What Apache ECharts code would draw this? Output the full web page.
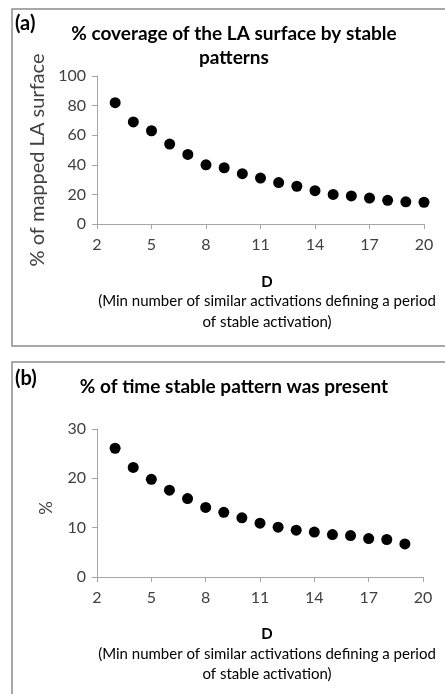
<!DOCTYPE html>
<html>
<head>
	<meta charset="utf-8">
	<title>stable patterns</title>
	<script src="https://cdn.jsdelivr.net/npm/echarts@6/dist/echarts.min.js"></script>
	<style>
		html, body { margin: 0; padding: 0; background: #fff; }
		#chart { width: 445px; height: 694px; }
	</style>
</head>
<body>
	<div id="chart"></div>
	<script>
		var dA = [3, 4, 5, 6, 7, 8, 9, 10, 11, 12, 13, 14, 15, 16, 17, 18, 19, 20];
		var coverage = [82, 69, 63, 54, 47, 40, 38, 34, 31, 28, 25.5, 22.5, 20, 19, 17.5, 16, 15, 14.7];
		var dB = [3, 4, 5, 6, 7, 8, 9, 10, 11, 12, 13, 14, 15, 16, 17, 18, 19];
		var timePresent = [26.1, 22.2, 19.8, 17.6, 15.9, 14.1, 13.1, 12.0, 10.9, 10.1, 9.5, 9.1, 8.6, 8.4, 7.8, 7.6, 6.7];

		var font = 'Lato, "Open Sans", sans-serif';
		var xNote = '(Min number of similar activations defining a period';
		var xNote2 = 'of stable activation)';

		function pairs(xs, ys) {
			var out = [];
			for (var i = 0; i < xs.length; i++) out.push([xs[i], ys[i]]);
			return out;
		}

		function xAxisFor(idx) {
			return {
				gridIndex: idx, type: 'value', min: 2, max: 20, interval: 3,
				axisLine: { lineStyle: { color: '#a6a6a6', width: 1 } },
				axisTick: { show: true, length: 5, lineStyle: { color: '#a6a6a6' } },
				axisLabel: { color: '#404040', fontSize: 16, fontFamily: font, margin: 13 },
				splitLine: { show: false }
			};
		}

		function yAxisFor(idx, max, interval) {
			return {
				gridIndex: idx, type: 'value', min: 0, max: max, interval: interval,
				axisLine: { show: true, lineStyle: { color: '#a6a6a6', width: 1 } },
				axisTick: { show: true, length: 5, lineStyle: { color: '#a6a6a6' } },
				axisLabel: { color: '#404040', fontSize: 16, fontFamily: font, margin: 11 },
				splitLine: { show: false }
			};
		}

		function txt(x, y, s, size, bold, align, color) {
			return {
				type: 'text', x: x, y: y,
				style: {
					text: s, fill: color || '#000', fontSize: size, fontFamily: font,
					fontWeight: bold ? 'bold' : 'normal',
					align: align || 'center', verticalAlign: 'middle'
				}
			};
		}

		function vtxt(x, y, s, size) {
			var t = txt(x, y, s, size, false, 'center', '#404040');
			t.rotation = Math.PI / 2;
			return t;
		}

		var chart = echarts.init(document.getElementById('chart'));
		chart.setOption({
			animation: false,
			grid: [
				{ left: 97, top: 76, width: 327, height: 148 },
				{ left: 97, top: 429, width: 326, height: 148 }
			],
			xAxis: [xAxisFor(0), xAxisFor(1)],
			yAxis: [yAxisFor(0, 100, 20), yAxisFor(1, 30, 10)],
			graphic: [
				{ type: 'rect', shape: { x: 12, y: 9, width: 450, height: 337 },
					style: { fill: 'none', stroke: '#8c8c8c', lineWidth: 1.5 } },
				{ type: 'rect', shape: { x: 12, y: 362, width: 450, height: 350 },
					style: { fill: 'none', stroke: '#8c8c8c', lineWidth: 1.5 } },
				txt(15, 24, '(a)', 20, true, 'left'),
				txt(234, 34, '% coverage of the LA surface by stable', 19, true),
				txt(234, 58, 'patterns', 19, true),
				vtxt(38, 160, '% of mapped LA surface', 20),
				txt(267, 282, 'D', 15, true),
				txt(267, 301, xNote, 15, false),
				txt(267, 322, xNote2, 15, false),
				txt(15, 379, '(b)', 20, true, 'left'),
				txt(234, 387, '% of time stable pattern was present', 19, true),
				vtxt(47, 508, '%', 17),
				txt(267, 634, 'D', 15, true),
				txt(267, 654, xNote, 15, false),
				txt(267, 674, xNote2, 15, false)
			],
			series: [
				{ type: 'scatter', xAxisIndex: 0, yAxisIndex: 0, data: pairs(dA, coverage),
					symbolSize: 11, itemStyle: { color: '#000', opacity: 1 } },
				{ type: 'scatter', xAxisIndex: 1, yAxisIndex: 1, data: pairs(dB, timePresent),
					symbolSize: 11, itemStyle: { color: '#000', opacity: 1 } }
			]
		});
	</script>
</body>
</html>
